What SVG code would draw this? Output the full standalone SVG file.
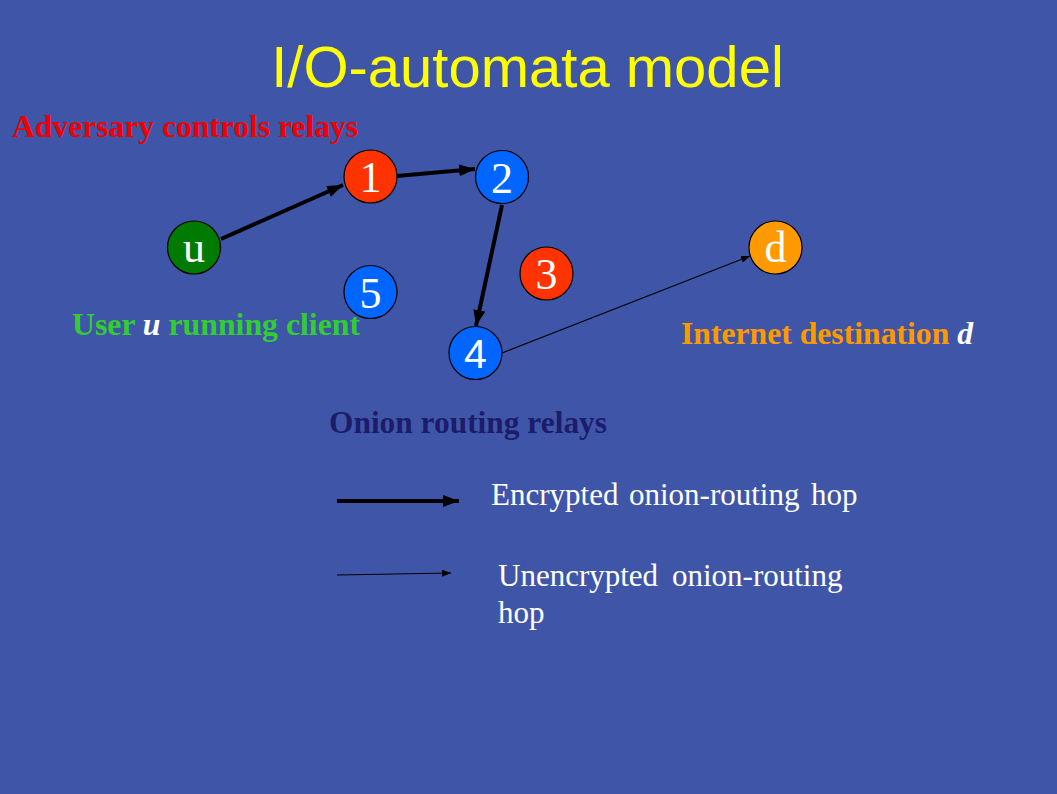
<svg xmlns="http://www.w3.org/2000/svg" width="1057" height="794" viewBox="0 0 1057 794">
<style>
.bg{fill:#3F56A8}
.node{stroke:#000;stroke-width:1.2}
.nl{font-family:"Liberation Serif","Times New Roman",serif;font-size:44px;fill:#fff;text-anchor:middle}
.nls{font-family:"Liberation Sans",Arial,sans-serif;font-size:41px;fill:#fff;text-anchor:middle}
.lbl{font-family:"Liberation Serif","Times New Roman",serif;font-size:32px;font-weight:bold}
.leg{font-family:"Liberation Serif","Times New Roman",serif;font-size:31px;fill:#fff}
.thick{stroke:#000;stroke-width:4;fill:none}
.thin{stroke:#000;stroke-width:1.2;fill:none}
</style>
<defs>
<marker id="ah" markerWidth="16" markerHeight="12" refX="16" refY="6" orient="auto" markerUnits="userSpaceOnUse">
<path d="M0,0 L16,6 L0,12 Z" fill="#000"/>
</marker>
<marker id="ahs" markerWidth="9" markerHeight="7" refX="9" refY="3.5" orient="auto" markerUnits="userSpaceOnUse">
<path d="M0,0 L9,3.5 L0,7 Z" fill="#000"/>
</marker>
</defs>
<rect class="bg" x="0" y="0" width="1057" height="794"/>
<text x="527.5" y="87" font-family="'Liberation Sans',Arial,sans-serif" font-size="58" fill="#FFFF00" text-anchor="middle">I/O-automata model</text>
<text class="lbl" x="12" y="137" fill="#F00000" textLength="346" lengthAdjust="spacingAndGlyphs">Adversary controls relays</text>
<text class="lbl" x="72" y="335" fill="#33CC33" textLength="288" lengthAdjust="spacingAndGlyphs">User <tspan fill="#fff" font-style="italic">u</tspan> running client</text>
<text class="lbl" x="681" y="344" fill="#FF9900" textLength="292" lengthAdjust="spacingAndGlyphs">Internet destination <tspan fill="#fff" font-style="italic">d</tspan></text>
<text class="lbl" x="329" y="433" fill="#1C1C6B" textLength="278" lengthAdjust="spacingAndGlyphs">Onion routing relays</text>
<g id="connectors">
<line class="thick" x1="221" y1="239" x2="343" y2="185" marker-end="url(#ah)"/>
<line class="thick" x1="397" y1="176" x2="475" y2="169" marker-end="url(#ah)"/>
<line class="thick" x1="502" y1="205" x2="476" y2="326" marker-end="url(#ah)"/>
<line class="thin" x1="502" y1="353" x2="750" y2="256" marker-end="url(#ahs)"/>
</g>
<g id="node-u"><circle class="node" cx="194" cy="247.5" r="26.5" fill="#007A00"/><text class="nl" x="194" y="262">u</text></g>
<g id="node-1"><circle class="node" cx="370.5" cy="176.5" r="26.5" fill="#FF3300"/><text class="nl" x="370.5" y="192">1</text></g>
<g id="node-2"><circle class="node" cx="502" cy="177" r="26.5" fill="#0066FF"/><text class="nl" x="502" y="192.5">2</text></g>
<g id="node-3"><circle class="node" cx="546.5" cy="273.5" r="26.5" fill="#FF3300"/><text class="nl" x="546.5" y="289">3</text></g>
<g id="node-4"><circle class="node" cx="475.5" cy="353" r="26.5" fill="#0066FF"/><text class="nls" x="475.5" y="368">4</text></g>
<g id="node-5"><circle class="node" cx="370.5" cy="292" r="26.5" fill="#0066FF"/><text class="nl" x="370.5" y="307.5">5</text></g>
<g id="node-d"><circle class="node" cx="775.5" cy="247.5" r="26.5" fill="#FF9900"/><text class="nl" x="775.5" y="262">d</text></g>
<g id="legend">
<line class="thick" x1="337" y1="501" x2="459" y2="501" marker-end="url(#ah)"/>
<line class="thin" x1="337" y1="575" x2="451" y2="573" marker-end="url(#ahs)"/>
<text class="leg" y="505"><tspan x="491">Encrypted</tspan><tspan x="629">onion-routing</tspan><tspan x="811">hop</tspan></text>
<text class="leg" y="586"><tspan x="498">Unencrypted</tspan><tspan x="672">onion-routing</tspan></text>
<text class="leg" x="498" y="623">hop</text>
</g>
</svg>
